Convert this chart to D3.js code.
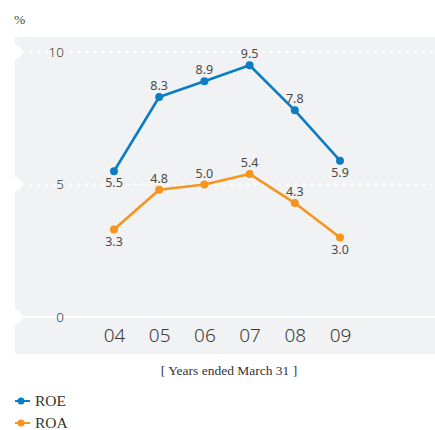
<!DOCTYPE html>
<html>
<head>
<meta charset="utf-8">
<script src="https://cdn.jsdelivr.net/npm/d3@7"></script>
<style>
  html, body { margin: 0; padding: 0; background: #ffffff; }
  svg { display: block; }
</style>
</head>
<body>
<svg id="chart" width="435" height="430"></svg>
<script>
// Fiscal years (ended March 31)
const years = ["04", "05", "06", "07", "08", "09"];
// Return on equity, %
const roe = [5.5, 8.3, 8.9, 9.5, 7.8, 5.9];
// Return on assets, %
const roa = [3.3, 4.8, 5.0, 5.4, 4.3, 3.0];
// Value axis ticks
const yTicks = [0, 5, 10];
// Label placement per point: true = below the marker
const roeBelow = [true, false, false, false, false, true];
const roaBelow = [true, false, false, false, false, true];

const series = [
  { name: "ROE", values: roe, below: roeBelow, color: "#0a7dc3" },
  { name: "ROA", values: roa, below: roaBelow, color: "#f7941d" }
];

const svg = d3.select("#chart");
const sans = "'Noto Sans', 'DejaVu Sans', sans-serif";
const serif = "'Liberation Serif', 'DejaVu Serif', serif";

// Plot background panel
svg.append("rect")
  .attr("x", 15).attr("y", 37)
  .attr("width", 420).attr("height", 317)
  .attr("fill", "#f1f2f4");

const x = d3.scalePoint().domain(years).range([114, 340]);
const y = d3.scaleLinear().domain([0, 10]).range([317, 52]);

// Gridlines: dotted for 5 and 10, solid for the baseline
const grid = svg.append("g");
yTicks.forEach(t => {
  grid.append("line")
    .attr("x1", 15).attr("x2", 435)
    .attr("y1", y(t)).attr("y2", y(t))
    .attr("stroke", "#ffffff")
    .attr("stroke-width", t === 0 ? 2 : 2.6)
    .attr("stroke-linecap", "round")
    .attr("stroke-dasharray", t === 0 ? null : "0.01 8");
  grid.append("circle")
    .attr("cx", 15).attr("cy", y(t)).attr("r", 7)
    .attr("fill", "#ffffff");
});

// Y axis labels
const yAxis = d3.axisLeft(y).tickValues(yTicks).tickSize(0).tickPadding(0);
const yg = svg.append("g").attr("transform", "translate(64,0)").call(yAxis);
yg.select(".domain").remove();
yg.selectAll("text")
  .attr("font-family", sans).attr("font-size", 13.5)
  .attr("fill", "#3a3a3a").attr("font-weight", 300);

// X axis labels
const xAxis = d3.axisBottom(x).tickSize(0).tickPadding(0);
const xg = svg.append("g").attr("transform", "translate(0,328)").call(xAxis);
xg.select(".domain").remove();
xg.selectAll("text")
  .attr("font-family", sans).attr("font-size", 19)
  .attr("fill", "#3a3a3a").attr("font-weight", 300);

// Axis titles
svg.append("text")
  .attr("x", 14).attr("y", 24)
  .attr("font-family", serif).attr("font-size", 13.5)
  .attr("fill", "#444").text("%");

svg.append("text")
  .attr("x", 229).attr("y", 375)
  .attr("text-anchor", "middle")
  .attr("font-family", serif).attr("font-size", 13.5)
  .attr("fill", "#333").text("[ Years ended March 31 ]");

// Lines, markers and value labels
const line = d3.line().x((d, i) => x(years[i])).y(d => y(d));
series.forEach(s => {
  const g = svg.append("g");
  g.append("path")
    .datum(s.values)
    .attr("d", line)
    .attr("fill", "none")
    .attr("stroke", s.color)
    .attr("stroke-width", 2.6)
    .attr("stroke-linejoin", "round");
  g.selectAll("circle")
    .data(s.values)
    .join("circle")
    .attr("cx", (d, i) => x(years[i]))
    .attr("cy", d => y(d))
    .attr("r", 4)
    .attr("fill", s.color);
  g.selectAll("text")
    .data(s.values)
    .join("text")
    .attr("x", (d, i) => x(years[i]))
    .attr("y", (d, i) => s.below[i] ? y(d) + 16 : y(d) - 7)
    .attr("text-anchor", "middle")
    .attr("font-family", sans).attr("font-size", 12.5)
    .attr("fill", "#4a4a4a")
    .text(d => d.toFixed(1));
});

// Legend
const legend = svg.append("g");
series.forEach((s, i) => {
  const ly = 401 + i * 22;
  legend.append("line")
    .attr("x1", 15).attr("x2", 30)
    .attr("y1", ly).attr("y2", ly)
    .attr("stroke", s.color).attr("stroke-width", 2);
  legend.append("circle")
    .attr("cx", 21).attr("cy", ly).attr("r", 3.5)
    .attr("fill", s.color);
  legend.append("text")
    .attr("x", 35).attr("y", ly + 5)
    .attr("font-family", serif).attr("font-size", 15.5)
    .attr("fill", "#333").text(s.name);
});
</script>
</body>
</html>
